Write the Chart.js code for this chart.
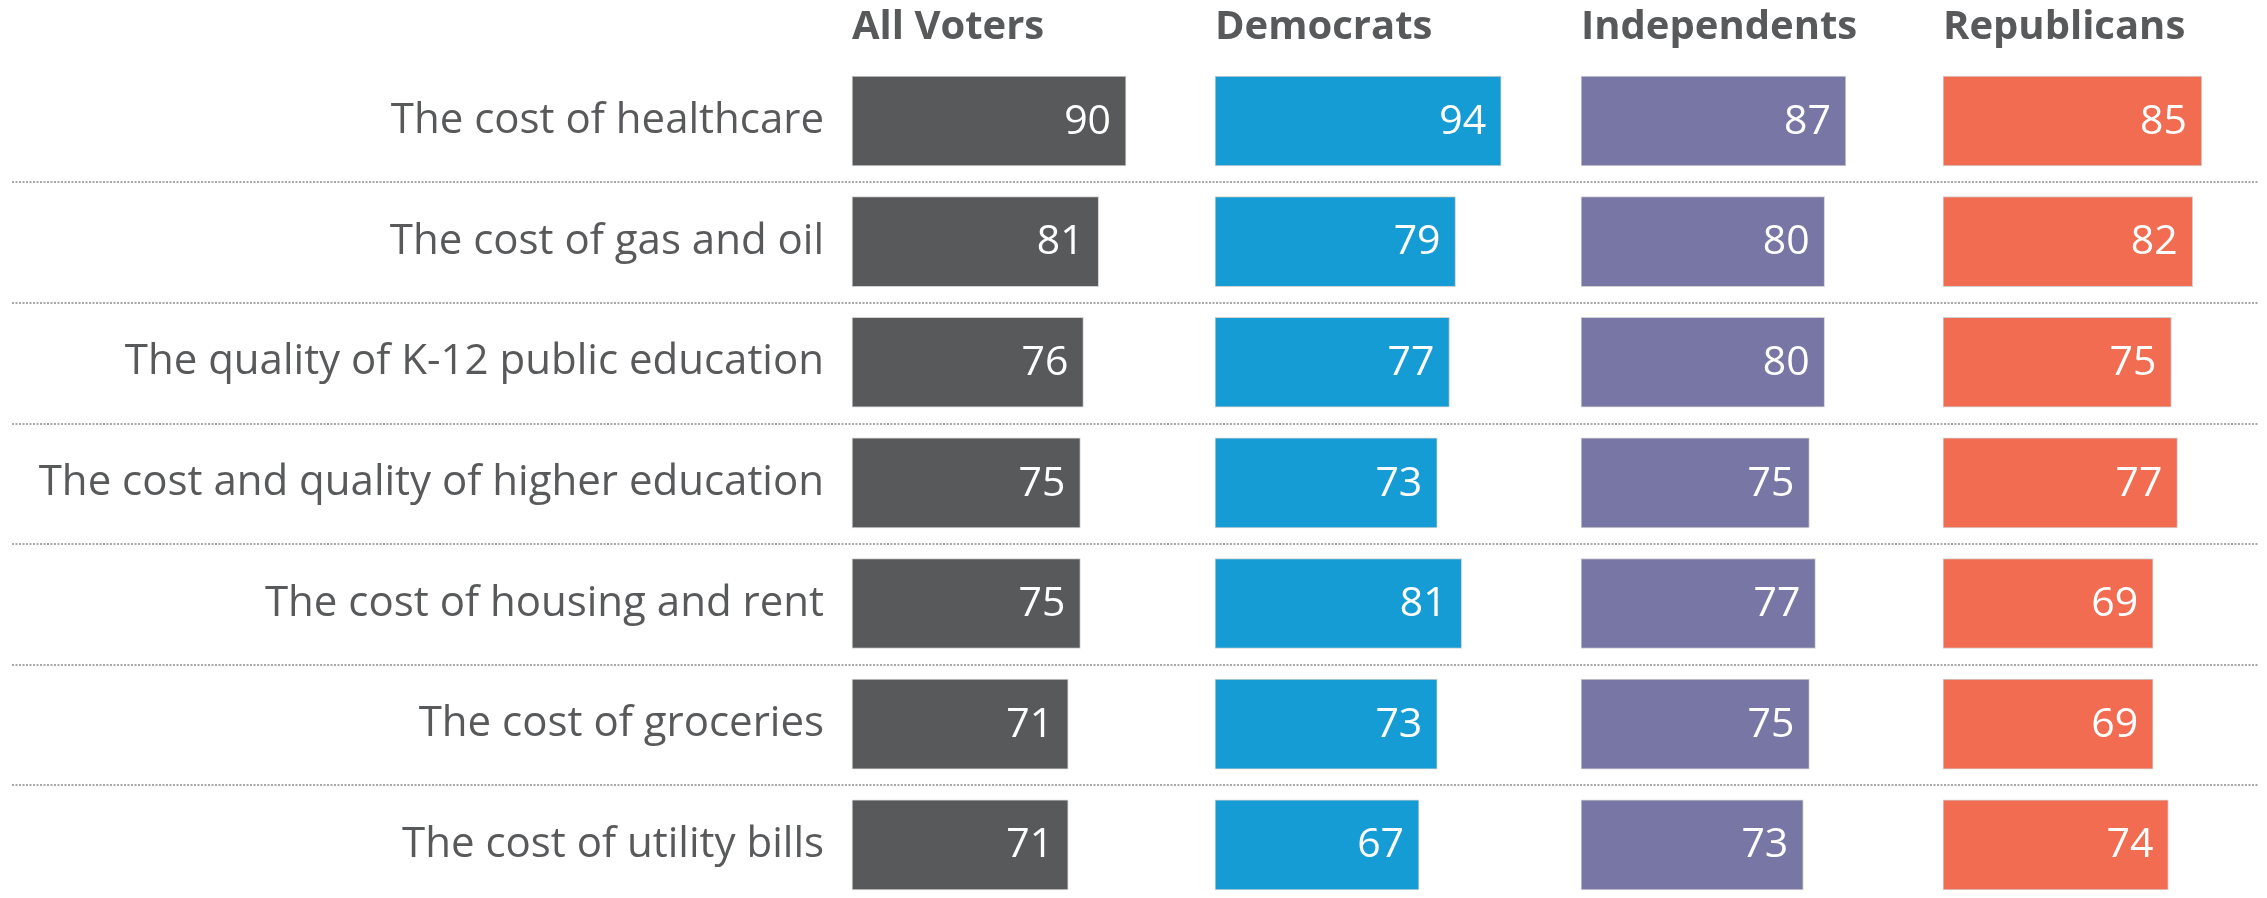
<!DOCTYPE html>
<html>
<head>
<meta charset="utf-8">
<script src="https://cdn.jsdelivr.net/npm/chart.js@4/dist/chart.umd.min.js"></script>
<style>
    html, body { margin: 0; padding: 0; background: #fff; overflow: hidden; }
    #wrap { position: relative; width: 2267px; height: 898px; }
</style>
</head>
<body>
<div id="wrap"><canvas id="issues-bar"></canvas></div>
<script>
const categories = [
    "The cost of healthcare",
    "The cost of gas and oil",
    "The quality of K-12 public education",
    "The cost and quality of higher education",
    "The cost of housing and rent",
    "The cost of groceries",
    "The cost of utility bills"
];
const groups = ["All Voters", "Democrats", "Independents", "Republicans"];

const all_voters = [90, 81, 76, 75, 75, 71, 71];
const democrats = [94, 79, 77, 73, 81, 73, 67];
const independents = [87, 80, 80, 75, 77, 75, 73];
const republicans = [85, 82, 75, 77, 69, 69, 74];

const series = [all_voters, democrats, independents, republicans];
const colours = ["#58595B", "#159CD5", "#7776A4", "#F16C50"];

const font = "'Open Sans', Lato, sans-serif";
const text_grey = "#58595B";

// layout of the four panels (pixels)
const plot_left = 852;
const plot_right = 2267;
const panel_starts = [852, 1215, 1581, 1943];
const px_per_unit = 3.045;

let scales = {
    y: {
        type: "category",
        offset: false,
        grid: { display: false, drawTicks: false },
        border: { display: false },
        ticks: {
            padding: 28,
            color: text_grey,
            font: { family: font, size: 42 }
        },
        afterFit: (scale) => { scale.width = plot_left; }
    }
};

let datasets = [];
for (let i = 0; i < groups.length; i ++) {
    const min = -(panel_starts[i] - plot_left) / px_per_unit;
    scales["x" + i] = {
        type: "linear",
        axis: "x",
        display: false,
        min: min,
        max: min + (plot_right - plot_left) / px_per_unit
    };
    datasets.push({
        label: groups[i],
        data: series[i],
        xAxisID: "x" + i,
        yAxisID: "y",
        backgroundColor: colours[i],
        borderColor: "rgba(0,0,0,0.18)",
        borderWidth: 1,
        borderSkipped: false,
        barThickness: 90,
        grouped: false,
        clip: false
    });
}

// dotted separators between rows, across the whole width
const separators = {
    id: "separators",
    beforeDatasetsDraw(chart) {
        const ctx = chart.ctx;
        const y = chart.scales.y;
        ctx.save();
        ctx.strokeStyle = "#A8A8A8";
        ctx.lineWidth = 2;
        ctx.setLineDash([2, 1.5]);
        for (let i = 0; i < categories.length - 1; i ++) {
            const py = Math.round((y.getPixelForValue(i) + y.getPixelForValue(i + 1)) / 2) + 1;
            ctx.beginPath();
            ctx.moveTo(12, py);
            ctx.lineTo(2258, py);
            ctx.stroke();
        }
        ctx.restore();
    }
};

// value inside bar end + panel headings
const labels = {
    id: "labels",
    afterDatasetsDraw(chart) {
        const ctx = chart.ctx;
        ctx.save();
        ctx.textBaseline = "middle";
        ctx.font = `41px ${font}`;
        ctx.fillStyle = "#fff";
        ctx.textAlign = "right";
        chart.data.datasets.forEach((ds, i) => {
            chart.getDatasetMeta(i).data.forEach((bar, j) => {
                ctx.fillText(ds.data[j], bar.x - 15, bar.y + 1);
            });
        });

        ctx.font = `bold 40px ${font}`;
        ctx.fillStyle = text_grey;
        ctx.textAlign = "left";
        for (let i = 0; i < groups.length; i ++) {
            const x0 = chart.scales["x" + i].getPixelForValue(0);
            ctx.fillText(groups[i], x0, 28);
        }
        ctx.restore();
    }
};

window.addEventListener("DOMContentLoaded", () => {
    const ctx = document.getElementById("issues-bar").getContext("2d");
    new Chart(ctx, {
        type: "bar",
        data: { labels: categories, datasets: datasets },
        options: {
            indexAxis: "y",
            responsive: true,
            maintainAspectRatio: false,
            animation: false,
            layout: { padding: { top: 121, bottom: 48, left: 0, right: 0 } },
            plugins: {
                legend: { display: false },
                tooltip: { enabled: false }
            },
            scales: scales
        },
        plugins: [separators, labels]
    });
});
</script>
</body>
</html>
